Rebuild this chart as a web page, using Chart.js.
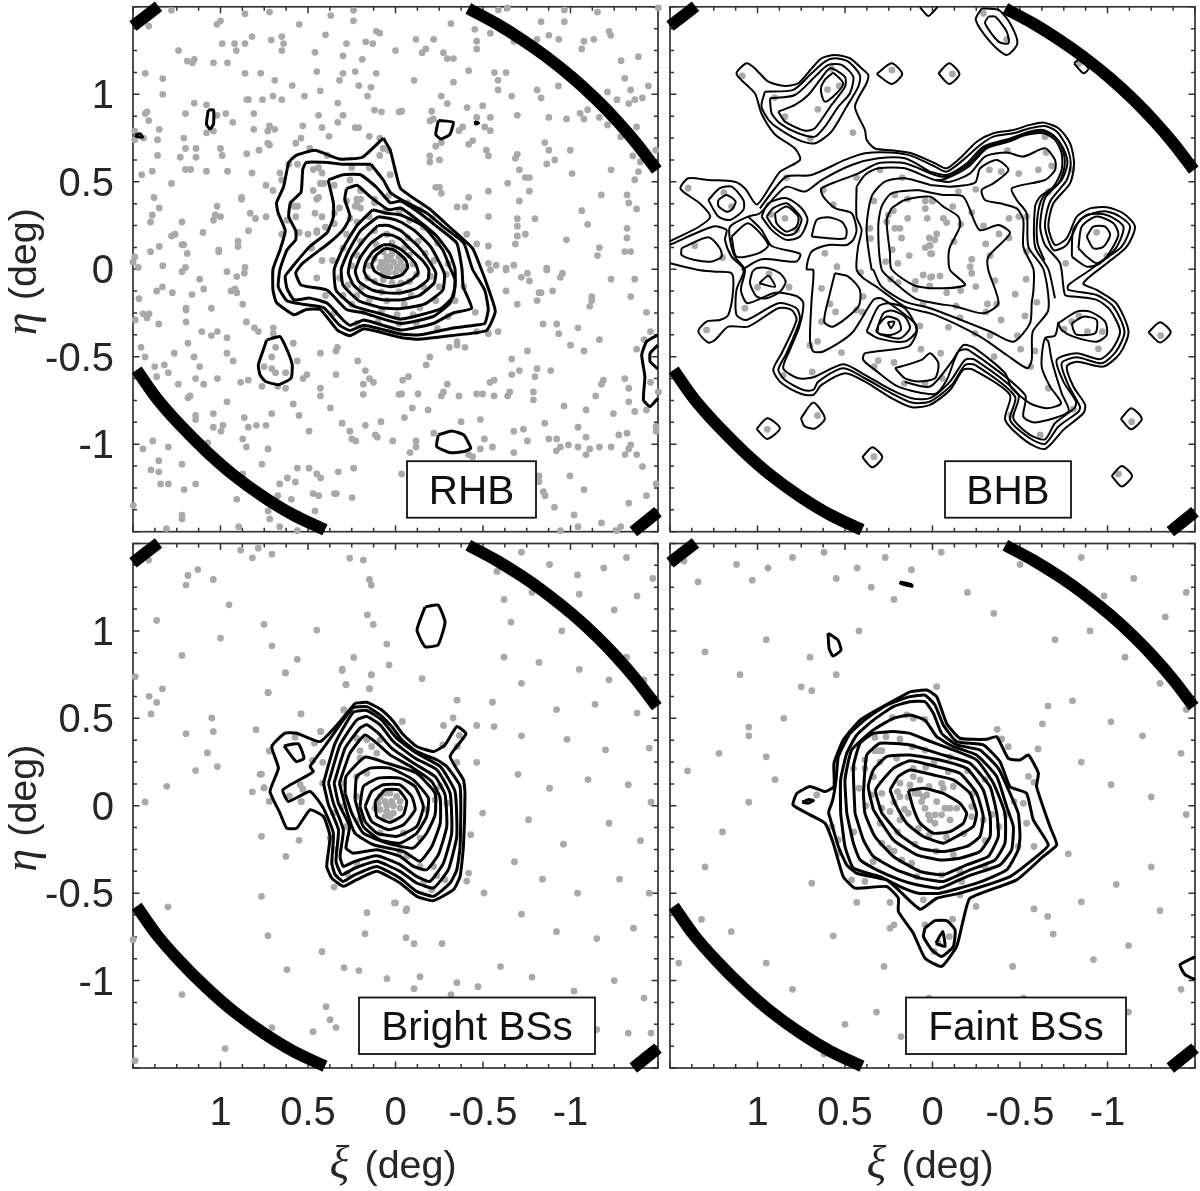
<!DOCTYPE html>
<html lang="en">
<head>
<meta charset="UTF-8">
<title>Star density maps</title>
<script src="https://cdn.jsdelivr.net/npm/chart.js"></script>
<style>
    html, body { margin: 0; padding: 0; background: white; }
    #wrap { position: relative; width: 1200px; height: 1191px; overflow: hidden; }
    canvas { position: absolute; }
</style>
</head>
<body>
<div id="wrap">
    <canvas id="rhb"></canvas>
    <canvas id="bhb"></canvas>
    <canvas id="brightBs"></canvas>
    <canvas id="faintBs"></canvas>
</div>
<script>
// all values are in degrees: xi, eta, xi, eta, ...
const tickValues = [1, 0.5, 0, -0.5, -1];

// survey edge, same in all panels
const edgeTopLeft = [1.354,1.503, 1.5,1.39];
const edgeTopRight = [-0.416,1.49, -0.578,1.403, -0.73,1.308, -0.864,1.213, -1.016,1.091, -1.15,0.968, -1.264,0.85, -1.378,0.718, -1.493,0.567];
const edgeBottomLeft = [1.479,-0.575, 1.365,-0.737, 1.231,-0.89, 1.079,-1.042, 0.927,-1.175, 0.755,-1.30, 0.584,-1.404, 0.403,-1.49];
const edgeBottomRight = [-1.359,-1.50, -1.50,-1.386];

const rhbStars = [
1.28,1.48,1.41,1.39,.86,1.46,.72,1.47,.37,1.45,.24,1.48,.24,1.42,.55,1.40,1.02,1.40,1.0,1.42,.40,1.34,.11,1.36,.09,1.35,.17,1.30,.13,1.29,.28,1.29,.82,1.33,.71,1.31,.65,1.33,.64,1.29,.86,1.29,.92,1.29,.99,1.29,.91,1.25,.65,1.25,1.24,1.25,.46,1.24,.30,1.22,0,1.25,.19,1.20,1.15,1.20,1.19,1.19,1.16,1.18,1.04,1.18,.96,1.18,.45,1.13,.30,1.12,.23,1.13,.11,1.12,1.43,1.12,.86,1.12,.77,1.12,1.33,1.09,.69,1.08,.32,1.08,.59,1.05,.21,1.05,.14,1.04,.43,1.02,1.33,1.0,.52,.99,.70,.99,.16,.99,.85,.97,.84,.97,.76,.97,.65,.97,1.15,.95,1.08,.94,.33,.95,.12,.91,.08,.90,-.02,.90,1.43,.89,1.42,.90,1.20,.89,1.02,.88,.97,.89,.81,.89,.44,.88,.30,.88,1.41,.85,.93,.84,.72,.82,.53,.82,.42,.81,.33,.84,.23,.81,.21,.81,1.35,.80,.81,.80,.73,.79,.69,.80,1.04,.79,1.08,.78,1.49,.79,1.49,.74,1.44,.75,1.36,.74,1.21,.75,.38,.76,.54,.75,.57,.72,.15,.76,.09,.75,.73,.72,.72,.71,1.20,.69,1.14,.69,1.0,.69,.78,.68,.49,.69,.07,.69,.04,.68,1.36,.65,1.23,.64,1.14,.64,.99,.65,.85,.66,.09,.65,.39,.65,.56,.60,.61,.60,.47,.57,.44,.58,.42,.55,.25,.58,.15,.58,1.20,.57,1.17,.57,1.08,.56,.96,.56,.82,.55,.66,.55,.65,.51,1.39,.56,1.45,.54,1.28,.49,.74,.48,.43,.49,.41,.49,.35,.48,.26,.51,.70,.45,.47,.45,.20,.45,.03,.54,1.38,.41,.88,.41,.88,.40,.44,.41,.45,.40,.20,.40,.22,.40,.28,.39,.12,.38,1.02,.36,1.35,.35,1.39,.31,.83,.32,1.03,.31,1.0,.30,1.04,.28,.80,.29,.74,.30,.58,.36,.56,.36,.32,.35,.23,.36,.20,.35,.46,.32,.57,.30,.42,.30,1.40,.27,1.22,.27,.62,.28,.26,.29,1.10,.21,.84,.22,1.28,.19,1.26,.20,.65,.20,.55,.21,.45,.22,.45,.21,.35,.26,.90,.16,.90,.13,1.22,.14,1.21,.14,1.35,.13,1.40,.10,1.19,.09,1.01,.11,1.01,.10,1.49,.07,1.50,.04,1.47,.01,1.33,.02,1.20,.01,.86,.01,
-.588,1.482,-.639,1.493,-.965,1.482,-1.154,1.47,-1.502,1.493,-.317,1.404,-.832,1.415,-.965,1.415,-.453,1.371,-.542,1.349,-1.22,1.36,-1.23,1.337,-.117,1.314,-.218,1.314,-.464,1.303,-.676,1.303,-.809,1.314,-.933,1.314,-1.077,1.303,-1.133,1.314,-.876,1.337,-.464,1.259,-1.064,1.259,-.173,1.259,-.152,1.238,-.274,1.238,-.296,1.204,-.331,1.204,-1.289,1.192,-1.388,1.215,-.418,1.135,-.565,1.124,-.632,1.124,-.106,1.08,-.331,1.069,-.586,1.08,-1.31,1.091,-1.445,1.048,-.586,1.025,-.809,1.025,-.931,1.048,-1.344,1.025,-1.211,1.013,-.262,.99,-.664,.99,-.832,.979,-1.411,.979,-1.367,.969,-1.266,.969,-1.333,.947,-.296,.947,-.409,.924,-.498,.935,-1.098,.912,-1.055,.891,-.035,.903,-.207,.903,-.696,.88,-.542,.868,-.464,.868,-.876,.868,-.977,.859,-1.077,.859,-1.165,.868,-.197,.848,-.216,.859,-1.211,.825,-1.378,.813,-.384,.813,-.51,.813,-.363,.792,-.542,.792,-1.287,.758,-.441,.735,-.418,.714,-.262,.724,-.23,.703,-.853,.724,-.876,.68,-.999,.68,-1.487,.68,-.519,.68,-.531,.648,-.196,.648,-.196,.613,-.251,.625,-1.356,.648,-.696,.657,-.685,.634,-.91,.625,-.864,.602,-1.399,.613,-.708,.568,-1.388,.558,-1.009,.547,-1.232,.568,-.742,.524,-.765,.524,-1.367,.512,-.641,.491,-.23,.468,-.251,.468,-.262,.434,-.531,.446,-.765,.446,-.418,.411,-1.176,.425,-1.323,.425,-.708,.39,-1.333,.379,-.352,.356,-.397,.356,-1.378,.345,-1.064,.335,-.531,.301,-.696,.289,-.797,.289,-1.098,.257,-.696,.246,-1.323,.234,-.742,.2,-.696,.19,-.977,.168,-1.323,.179,-.685,.145,-1.165,.124,-1.31,.101,-1.344,.101,-1.154,.078,-.464,.145,-.531,.133,-.407,.2,-.575,.023,-.531,.034,-.676,.023,-.864,.006,-.632,.006,
1.22,-.014,.963,-.014,1.119,-.057,.864,-.023,.907,-.042,1.365,-.124,1.332,-.101,1.275,-.134,1.163,-.145,1.096,-.113,.94,-.124,.917,-.113,.907,-.134,1.466,-.168,.873,-.2,1.197,-.223,1.197,-.233,1.052,-.223,1.443,-.255,1.408,-.255,1.42,-.278,1.487,-.29,1.353,-.313,1.197,-.301,.852,-.301,.806,-.335,.784,-.356,.698,-.335,.698,-.368,1.107,-.356,1.052,-.379,1.018,-.356,.963,-.391,1.186,-.423,1.454,-.446,1.264,-.48,1.431,-.501,1.151,-.501,.963,-.48,.928,-.524,.685,-.446,.584,-.423,.707,-.501,.561,-.524,.429,-.48,.332,-.446,.34,-.467,.216,-.524,1.376,-.556,1.321,-.547,1.298,-.591,1.365,-.614,1.119,-.556,1.142,-.625,1.096,-.657,1.018,-.625,1.241,-.657,.751,-.556,.707,-.568,.685,-.591,.628,-.591,.34,-.602,.528,-.625,.506,-.602,.172,-.579,.149,-.625,.126,-.646,.184,-.657,.885,-.646,.841,-.634,.763,-.669,.673,-.669,.628,-.68,.429,-.68,.429,-.724,.184,-.715,-.02,-.715,1.174,-.724,1.186,-.735,.963,-.758,.584,-.77,.372,-.793,1.041,-.825,1.142,-.836,1.142,-.859,.864,-.848,.707,-.825,.551,-.836,.986,-.892,1.041,-.903,.997,-.926,.841,-.903,.795,-.892,.74,-.892,.494,-.926,.305,-.88,.172,-.892,.083,-.871,.261,-.926,.115,-.947,.104,-.96,.25,-.97,.227,-.981,.016,-.981,1.387,-.981,1.443,-1.027,1.298,-1.016,1.073,-.993,.873,-.97,.852,-1.016,.728,-1.027,1.353,-1.094,1.22,-1.114,.763,-1.114,1.397,-1.147,1.353,-1.158,.873,-1.17,.561,-1.137,.494,-1.137,.45,-1.17,.428,-1.193,.327,-1.158,.239,-1.137,.618,-1.193,.572,-1.216,.662,-1.227,1.342,-1.227,1.298,-1.227,1.142,-1.227,1.208,-1.259,.673,-1.294,.471,-1.282,.439,-1.294,.349,-1.282,.338,-1.282,.248,-1.305,.907,-1.315,.595,-1.315,1.498,-1.349,.728,-1.381,.46,-1.381,1.22,-1.406,1.22,-1.427,.719,-1.427,1.309,-1.482,.896,-1.471,.662,-1.471,.561,-1.494,
-.542,-.004,-.632,-.004,-.864,-.004,-.754,-.023,-.719,-.046,-.765,-.067,-.954,-.023,-.942,-.046,-1.232,-.057,-1.367,-.057,-.632,-.124,-.82,-.134,-.832,-.134,-.898,-.124,-1.344,-.156,-1.121,-.156,-1.121,-.179,-.809,-.179,-.696,-.2,-1.11,-.212,-1.434,-.246,-.456,-.246,-.843,-.313,-.921,-.313,-1.043,-.335,-.933,-.368,-1.457,-.356,-.464,-.356,-.531,-.368,-.586,-.356,-1.165,-.402,-1.0,-.434,-1.077,-.467,-1.378,-.457,-1.42,-.402,-.352,-.414,-.352,-.434,-.308,-.446,-.397,-.446,-.754,-.467,-.196,-.501,-.175,-.547,-.664,-.513,-.664,-.602,-.708,-.579,-.809,-.568,-.797,-.614,-.887,-.579,-.074,-.614,-.041,-.634,-.54,-.646,-.563,-.634,-.296,-.657,-1.188,-.634,-1.177,-.657,-1.31,-.625,-1.333,-.68,-1.457,-.646,-.035,-.713,-.129,-.713,-.274,-.701,-.262,-.724,-.363,-.724,-.464,-.713,-.498,-.713,-.563,-.724,-.653,-.701,-.641,-.724,-.788,-.701,-.788,-.747,-1.144,-.724,-1.333,-.758,-1.502,-.701,-.963,-.781,-.096,-.793,-.186,-.804,-1.089,-.804,-1.245,-.825,-1.367,-.813,-1.434,-.804,-.051,-.848,-.375,-.871,-.485,-.859,-.853,-.88,-1.043,-.903,-1.489,-.899,-1.489,-.926,-.676,-.926,-.731,-.914,-.218,-.937,-1.276,-.947,-1.323,-.937,-1.089,-.96,-.876,-.97,-.921,-.97,-.117,-.981,-.508,-.97,-.754,-.981,-.988,-1.004,-1.043,-1.016,-.942,-1.016,-.919,-1.038,-1.11,-1.027,-1.165,-1.016,-1.232,-1.016,-1.344,-1.004,-1.333,-1.027,-1.312,-1.059,-1.378,-1.059,-.117,-1.016,-.083,-1.048,-.485,-1.027,-.554,-1.016,-.676,-1.048,-.418,-1.059,-.441,-1.071,-1.089,-1.059,-1.411,-1.128,-.035,-1.17,-.997,-1.181,-.82,-1.181,-.82,-1.214,-1.489,-1.227,-1.077,-1.259,-.845,-1.271,-.855,-1.294,-1.434,-1.294,-1.333,-1.337,-.908,-1.36,-1.02,-1.404,-1.177,-1.45,-1.043,-1.471,-1.287,-1.471,-1.264,-1.494,-.942,-1.494,
.05,.07,.02,.09,-.02,.07,.08,.04,.05,.04,.01,.04,-.03,.04,.09,.01,.06,.01,.03,.01,-.01,.01,-.05,.01,.07,-.02,.04,-.02,0,-.02,-.04,-.01,.03,.06,.01,.11,.07,.1,.11,.14,.02,.15,-.05,.12,-.08,.08,.12,.06,.15,.02,-.1,.03,-.12,-.03,-.08,-.07,-.03,-.08,.02,-.08,.07,-.06,.12,-.07,.16,-.05,.19,-.1,.08,-.13,-.02,-.13,-.09,-.15,-.16,-.1,-.2,-.04,-.22,.05,-.17,.09,-.13,.16,-.07,.18,.05,.2,.12,.22,.2,.16,.22,.08,.25,.02,.27,-.09,.22,-.15,.15,-.18,.05,-.18,-.05,-.2,-.14,-.22,-.23,-.18,-.25,-.1,-.29,-.03,-.1,-.26,-.01,-.26,.08,-.24,.18,-.24,.25,-.2,.3,-.15,.32,-.05,.36,.05,.3,.12,.28,.2,.22,.27,.15,.3,.06,.33,-.02,.33,-.08,.28,-.16,.24,-.24,.15,-.3,.03,-.39,-.1,-.34,-.18,-.3,-.27,-.24,-.34,-.12,-.31,-.02,-.31,.1,-.3,.22,-.31,.35,-.25,.4,-.15,.45,-.05,.42,.05,.48,.12,.5,.2,.4,.24,.35,.32,.22,.37,.12,.4,.04,.42,-.07,.38,-.14,.34,-.21,.29
];

const rhbContours = [
[.07,.75,.19,.64,.32,.63,.46,.68,.57,.65,.61,.61,.64,.47,.68,.38,.67,.32,.63,.22,.66,.11,.70,0,.70,-.12,.68,-.19,.58,-.26,.51,-.23,.43,-.23,.33,-.35,.26,-.38,.18,-.34,-.03,-.39,-.12,-.40,-.31,-.38,-.52,-.35,-.57,-.24,-.52,-.08,-.49,0,-.44,.12,-.31,.24,-.20,.34,-.03,.46,0,.56,.03,.68],
[.14,.60,.30,.60,.39,.61,.51,.61,.53,.57,.54,.44,.60,.38,.61,.30,.57,.22,.57,.17,.62,.11,.66,0,.67,-.10,.62,-.18,.53,-.20,.41,-.22,.32,-.32,.26,-.35,.18,-.32,-.03,-.37,-.14,-.375,-.31,-.34,-.45,-.32,-.51,-.31,-.53,-.23,-.51,-.12,-.44,0,-.39,.15,-.27,.245,-.18,.32,-.03,.40,.03,.44,.07,.51],
[.385,.51,.30,.54,.20,.54,.11,.47,.03,.38,-.03,.39,-.14,.32,-.235,.245,-.35,.15,-.38,0,-.387,-.10,-.435,-.223,-.33,-.25,-.216,-.31,-.03,-.347,.18,-.29,.26,-.32,.30,-.29,.39,-.195,.49,-.165,.58,-.175,.62,-.11,.63,-.04,.60,0,.56,.05,.49,.13,.39,.21,.355,.30,.355,.38],
[.28,.46,.22,.48,.145,.415,.04,.34,-.03,.35,-.14,.27,-.235,.19,-.31,.09,-.34,0,-.34,-.10,-.31,-.195,-.216,-.27,-.03,-.31,.18,-.25,.28,-.23,.39,-.12,.54,-.09,.57,-.02,.53,.035,.38,.15,.30,.225,.26,.30,.29,.40],
[.13,.34,.22,.25,.30,.12,.35,0,.34,-.12,.24,-.21,.10,-.25,-.03,-.285,-.25,-.23,-.33,-.156,-.34,-.06,-.315,0,-.27,.11,-.16,.245,-.03,.31,.05,.32],
[.10,.30,.20,.22,.27,.10,.31,0,.30,-.09,.21,-.18,.08,-.22,-.03,-.225,-.165,-.20,-.27,-.12,-.28,-.03,-.255,.03,-.20,.13,-.11,.22,-.03,.27,.03,.29],
[.10,.25,.17,.18,.25,.07,.27,-.02,.24,-.09,.17,-.15,.07,-.175,-.03,-.175,-.135,-.15,-.22,-.08,-.23,-.02,-.19,.05,-.13,.13,-.03,.22,.04,.25],
[.07,.20,.14,.15,.20,.07,.23,-.01,.21,-.07,.13,-.12,.05,-.135,-.03,-.135,-.12,-.11,-.185,-.06,-.19,0,-.155,.05,-.09,.11,-.03,.17,.02,.195],
[.07,.14,.13,.10,.17,.04,.18,-.01,.16,-.05,.10,-.085,.03,-.10,-.03,-.09,-.09,-.06,-.13,-.02,-.115,.03,-.07,.08,-.02,.12,.03,.14],
[.06,.12,.11,.08,.135,.03,.12,-.01,.07,-.04,.02,-.05,-.04,-.03,-.07,.01,-.06,.05,-.02,.09,.02,.115],
[1.07,.91,1.04,.91,1.04,.83,1.06,.80,1.08,.83],
[1.49,.765,1.46,.775,1.445,.755,1.465,.755],
[-.245,.85,-.33,.84,-.31,.77,-.26,.745,-.23,.77],
[-.45,.836,-.46,.842,-.475,.836,-.46,.83],
[.736,-.404,.66,-.385,.62,-.46,.59,-.547,.597,-.623,.67,-.66,.745,-.64,.774,-.604,.784,-.547,.755,-.46],
[-.245,-.947,-.32,-.924,-.39,-.947,-.43,-1.023,-.39,-1.042,-.31,-1.048,-.235,-1.013]
];
const rhbOpen = [
[-1.50,-.375,-1.435,-.413,-1.407,-.49,-1.425,-.614,-1.417,-.747,-1.455,-.785,-1.50,-.737],
[-1.50,-.433,-1.455,-.48,-1.455,-.528,-1.50,-.57]
];

const bhbStars = [
1.087,1.105,.232,1.139,.577,1.148,.6,1.027,.533,1.048,.902,.981,.655,.914,.843,.872,.698,.747,.455,.781,.834,.524,.434,.524,.624,.453,.567,.369,.30,.568,.173,.524,.215,.425,.142,.402,.041,.39,.001,.39,.335,.39,1.192,.438,1.148,.358,.923,.314,.843,.291,.777,.225,.224,.335,.253,.31,.262,.272,.041,.347,.142,.291,.03,.291,.215,.234,.186,.234,.358,.234,.177,.179,.354,.177,.018,.179,.041,.124,.018,.135,.23,.112,1.358,.135,1.2,.067,.133,.078,.011,.089,.268,.044,.198,.034,.546,.015,1.396,.463,.615,.091,
-.291,1.463,-.424,1.314,-.114,1.116,-.839,1.177,-.643,.758,-.428,.678,-.649,.667,-.325,.568,-.392,.558,-.493,.547,-.605,.568,-.681,.59,-.796,.568,-.247,.457,-.148,.444,-.001,.39,-.116,.358,-.224,.324,-.437,.291,-.493,.301,-.538,.301,-.062,.291,-.081,.267,-.161,.257,-.291,.248,-.38,.202,-.024,.202,-.013,.168,.014,.135,-.437,.179,-.123,.158,-.304,.145,.004,.089,-.329,.078,-.538,.101,-.224,.057,-.215,.015,-.938,.211,-.996,.076,-.761,.034,-.662,.444,
1.291,-.347,1.072,-.223,1.0,-.103,.82,-.103,.934,-.027,.411,-.019,.634,-.109,.396,-.156,.586,-.198,.554,-.244,.434,-.233,.401,-.244,.634,-.299,.657,-.412,.70,-.434,.52,-.476,.066,-.457,.31,-.522,.333,-.556,.22,-.533,.687,-.587,.853,-.606,.161,-.652,.043,-.652,.657,-.836,.944,-.915,.335,-1.071,.239,-.057,.196,-.076,.097,-.069,.053,-.033,.011,-.046,.015,-.095,.10,-.114,.053,-.194,.072,-.324,
-.043,-.038,.004,-.042,-.224,-.023,-.247,-.099,-.357,-.065,-.535,-.057,-.081,-.134,-.161,-.122,-.472,-.143,-.314,-.198,-.367,-.198,-.596,-.189,-.135,-.21,-.306,-.244,-.529,-.267,-.157,-.276,-.392,-.29,-.091,-.332,-.243,-.366,-.329,-.379,-.485,-.379,-.504,-.457,-.586,-.467,-.047,-.48,-.352,-.499,-.561,-.556,-.055,-.623,-.662,-.68,-.805,-.80,-.447,-.833,-.615,-.947,-1.138,-.871,-1.062,-1.17,-1.304,-.379,-.837,-.267,-.796,-.299,-.752,-.343,-.885,-.356,-.971,-.356,-.948,-.455
];

const bhbContours = [
// rings and cells
[.977,.301,.938,.377,.834,.406,.748,.349,.714,.282,.757,.187,.834,.168,.92,.225],
[.948,.301,.91,.349,.834,.377,.777,.329,.748,.282,.786,.206,.843,.196,.91,.244],
[.90,.32,.834,.358,.767,.301,.777,.244,.834,.215,.891,.263],
[1.281,.396,1.215,.463,1.148,.472,1.081,.396,1.081,.339,1.157,.282,1.224,.301],
[1.224,.396,1.177,.425,1.125,.387,1.148,.339,1.177,.329,1.224,.362],
[.691,.187,.662,.282,.596,.297,.519,.272,.491,.225,.50,.177,.596,.177],
[1.148,.187,1.053,.263,.938,.139,.996,.091,1.12,.072],
[1.434,.12,1.281,.183,1.215,.12,1.205,.072,1.262,.044,1.358,.053,1.434,.082],
// upper blob
[.958,1.015,.796,1.025,.691,1.12,.615,1.187,.558,1.206,.481,1.187,.415,1.11,.424,1.044,.491,.929,.577,.787,.672,.72,.767,.739,.919,.834,.977,.929],
[.929,.977,.786,.996,.672,1.1,.596,1.168,.519,1.168,.453,1.1,.472,1.006,.538,.929,.615,.815,.672,.758,.767,.777,.872,.834,.919,.891],
[.881,.901,.786,.939,.71,.996,.643,1.082,.586,1.148,.5,1.1,.5,1.044,.577,.939,.672,.806,.729,.792,.843,.844],
[.567,1.124,.51,1.063,.548,1.006,.615,.958,.638,1.025,.615,1.082],
// small islands
[.319,1.116,.234,1.177,.173,1.116,.234,1.059],
[-.034,1.12,-.095,1.177,-.154,1.116,-.095,1.059],
[-.809,1.177,-.834,1.196,-.891,1.148,-.862,1.12],
[-.281,1.491,-.247,1.425,-.338,1.291,-.424,1.225,-.485,1.291,-.443,1.406,-.377,1.482],
[-.319,1.444,-.30,1.406,-.377,1.301,-.434,1.291,-.424,1.358,-.358,1.444],
[-1.234,-.36,-1.30,-.303,-1.361,-.36,-1.30,-.419],
[-1.076,-.855,-1.135,-.794,-1.196,-.855,-1.135,-.915],
[-1.024,-1.181,-1.081,-1.124,-1.14,-1.181,-1.081,-1.242],
[1.005,-.913,.944,-.852,.872,-.909,.944,-.97],
[.752,-.852,.681,-.762,.615,-.852,.672,-.91,.729,-.899],
[.401,-1.074,.344,-1.017,.287,-1.074,.344,-1.132],
// lower peaks
[1.03,-.014,1.043,-.08,1.005,-.156,.948,-.166,.872,-.128,.839,-.071,.872,-.023,.938,.006,1.005,.006],
[.99,-.08,.938,-.038,.90,-.1],
[.377,-.356,.31,-.214,.253,-.194,.158,-.223,.091,-.347,.158,-.413,.31,-.395],
[.323,-.356,.281,-.252,.234,-.236,.158,-.271,.129,-.337,.186,-.395,.291,-.375],
[.31,-.318,.262,-.271,.196,-.29,.181,-.347,.234,-.375,.31,-.366],
[.256,-.303,.218,-.299,.237,-.337],
[.558,-.023,.481,-.042,.415,-.118,.424,-.214,.567,-.328,.619,-.299,.586,-.137],
[.214,-.566,.158,-.623,.082,-.642,-.014,-.623,-.034,-.537,.014,-.48,.062,-.518],
[-.719,-.309,-.824,-.242,-.90,-.242,-.986,-.299,-.996,-.375,-.938,-.414,-.805,-.385,-.738,-.347],
[-.796,-.309,-.862,-.271,-.938,-.29,-.929,-.366,-.824,-.375,-.805,-.347],
[-.796,.072,-.805,.225,-.881,.31,-.996,.31,-1.091,.244,-1.053,.129,-.957,.034,-.881,.015],
[-.834,.12,-.853,.244,-.938,.301,-1.034,.263,-1.062,.196,-.996,.072,-.938,.034,-.881,.072],
[-.881,.187,-.919,.244,-.986,.244,-1.015,.196,-.977,.129,-.919,.12],
// inner plateau
[.234,.349,.262,.282,.243,.091,.234,0,.11,-.09,-.014,-.109,-.186,-.09,-.10,-.004,-.091,.072,-.10,.129,-.157,.244,-.148,.301,-.062,.358,.014,.415,.158,.396],
[.082,.453,.234,.434,.291,.358,.31,.244,.291,0,.234,-.061,.10,-.166,-.014,-.194,-.138,-.214,-.291,-.252,-.377,-.194,-.319,-.004,-.319,.072,-.443,.206,-.377,.253,-.268,.225,-.176,.415,-.06,.425],
[.014,.482,-.10,.472,-.243,.495,-.272,.577,-.367,.625,-.434,.567,-.348,.491,-.281,.453,-.30,.396,-.386,.377,-.481,.348,-.519,.282,-.519,.129,-.577,0,-.577,-.118,-.567,-.194,-.557,-.309,-.462,-.414,-.329,-.356,.014,-.223,.158,-.185,.291,-.099,.338,-.004,.348,0,.377,.225,.348,.415,.272,.501,.158,.52],
// main outer level
[.014,.558,-.081,.539,-.196,.606,-.291,.701,-.443,.748,-.557,.787,-.634,.796,-.70,.758,-.748,.691,-.771,.606,-.738,.51,-.643,.406,-.615,.244,-.643,.139,-.729,.034,-.757,-.147,-.805,-.156,-.938,-.175,-1.015,-.233,-1.072,-.356,-1.024,-.461,-.957,-.514,-.824,-.48,-.71,-.518,-.748,-.642,-.82,-.756,-.811,-.794,-.70,-.88,-.643,-.972,-.557,-.947,-.462,-.852,-.491,-.718,-.243,-.518,-.186,-.518,-.10,-.642,.014,-.737,.119,-.737,.234,-.69,.386,-.604,.51,-.543,.681,-.617,.767,-.623,.853,-.566,.815,-.461,.761,-.328,.738,-.194,.777,-.153,.90,-.134,1.057,-.194,1.095,-.118,1.072,-.004,1.129,.072,1.157,.168,1.157,.244,1.053,.301,.986,.32,.90,.415,.834,.472,.729,.444,.634,.51,.462,.596,.31,.634,.158,.634]
];
const bhbOpen = [
// outermost level, runs from the left frame round the whole map and back
[1.50,.16,1.34,.24,1.27,.30,1.33,.377,1.44,.46,1.395,.52,1.28,.51,1.13,.50,1.07,.46,1.005,.37,.93,.47,.87,.558,.757,.625,.786,.69,.90,.77,.977,.89,1.015,1.006,1.12,1.116,1.062,1.177,1.015,1.148,.938,1.072,.843,1.048,.767,1.063,.69,1.148,.634,1.206,.558,1.225,.472,1.206,.405,1.148,.367,1.11,.377,1.063,.443,.93,.386,.796,.376,.739,.329,.69,.234,.68,.12,.663,-.014,.606,-.081,.577,-.157,.634,-.253,.729,-.348,.777,-.462,.796,-.557,.825,-.634,.838,-.72,.806,-.786,.72,-.809,.606,-.786,.491,-.691,.377,-.662,.244,-.70,.139,-.767,.177,-.824,.30,-.90,.348,-.996,.354,-1.09,.32,-1.157,.244,-1.11,.129,-.996,.034,-.862,-.08,-.938,-.118,-1.05,-.194,-1.12,-.356,-1.072,-.48,-.976,-.556,-.824,-.528,-.767,-.556,-.805,-.67,-.872,-.775,-.862,-.823,-.748,-.918,-.643,-1.027,-.538,-.985,-.415,-.861,-.443,-.718,-.234,-.575,-.176,-.575,-.10,-.69,.014,-.775,.119,-.789,.234,-.737,.386,-.642,.50,-.594,.634,-.661,.681,-.718,.748,-.713,.862,-.652,.91,-.575,.862,-.48,.777,-.29,.805,-.233,.881,-.223,1.053,-.328,1.167,-.328,1.243,-.404,1.281,-.419,1.338,-.356,1.291,-.299,1.215,-.29,1.167,-.261,1.139,-.118,1.148,-.023,1.243,-.014,1.338,-.004,1.50,.034],
// second level
[1.50,.14,1.253,.244,1.177,.225,1.186,.168,1.148,.072,1.078,-.004,1.12,-.118,1.12,-.261,1.062,-.29,.881,-.194,.777,-.223,.758,-.29,.834,-.48,.881,-.575,.843,-.633,.738,-.69,.681,-.69,.653,-.642,.51,-.566,.386,-.623,.234,-.709,.119,-.762,.014,-.756,-.11,-.661,-.186,-.547,-.243,-.547,-.472,-.728,-.443,-.861,-.557,-.966,-.643,-.998,-.72,-.899,-.834,-.814,-.843,-.785,-.776,-.661,-.738,-.537,-.824,-.503,-.967,-.537,-1.049,-.47,-1.097,-.356,-1.034,-.214,-.938,-.147,-.776,-.118,-.777,-.09,-.90,-.004,-.976,.053,-1.081,.129,-1.129,.244,-1.072,.30,-.996,.33,-.92,.32,-.843,.282,-.767,.139,-.691,.11,-.643,.244,-.672,.387,-.767,.51,-.79,.606,-.767,.701,-.71,.787,-.643,.819,-.557,.806,-.462,.777,-.348,.758,-.272,.71,-.176,.625,-.081,.558,-.014,.587,.12,.648,.234,.667,.386,.663,.50,.625,.691,.539,.834,.53,.90,.463,.986,.348],
// branch of the third level
[1.053,.301,.977,.225,.919,.133,.757,.088,.777,.044,.977,.057,1.09,-.004],
// fourth and fifth levels
[.434,.472,.386,.539,.31,.577,.158,.577,-.014,.51,-.081,.52,-.205,.586,-.31,.691,-.434,.729,-.538,.768,-.634,.777,-.70,.739,-.738,.663,-.738,.567,-.691,.472,-.615,.415,-.586,.358,-.586,.129,-.662,0,-.70,-.166],
[.434,.472,.434,.30,.405,.225,.425,.13,.434,0,.396,-.05,.32,-.10,.158,-.214,-.014,-.261,-.272,-.385,-.424,-.49,-.542,-.566,-.567,-.518,-.573,-.356,-.662,-.233,-.634,0,-.548,.129,-.538,.32,-.481,.396,-.453,.463,-.643,.51,-.70,.567,-.70,.625,-.643,.691,-.519,.644,-.424,.667,-.30,.644,-.215,.548,-.10,.50,-.014,.51],
[-.64,.05,-.60,.15,-.60,.30,-.63,.41,-.72,.49,-.755,.59,-.745,.68,-.705,.75,-.634,.787,-.55,.778,-.44,.74,-.30,.695,-.20,.595,-.081,.53,-.014,.539,.158,.606,.31,.606,.424,.548,.634,.463,.624,.415,.557,.349,.462,.32,.434,.225,.453,.168,.491,.139,.596,.139,.691,.101,.719,0,.681,-.004,.691,-.175,.70,-.404,.681,-.47,.624,-.47,.462,-.366,.338,-.175,.291,-.166,.10,-.309,.091,-.366,.139,-.442,.386,-.48,.396,-.518,.329,-.575,.196,-.671,-.014,-.713,-.081,-.633,-.148,-.47,-.205,-.461,-.529,-.718,-.519,-.842,-.586,-.876,-.777,-.814,-.738,-.709,-.681,-.518,-.662,-.414,-.643,-.394],
[.158,-.645,.014,-.67,-.11,-.528,-.176,-.433,-.243,-.452,-.415,-.594,-.453,-.68,-.557,-.766,-.653,-.794,-.735,-.766,-.672,-.671,-.624,-.556,-.643,-.394,-.70,-.38,-.72,-.30],
// short piece at the top frame
[.072,1.497,.024,1.448,-.014,1.482,-.03,1.50]
];

const brightStars = [
1.41,1.405,1.186,1.317,1.13,1.351,1.041,1.294,1.197,1.262,.885,1.462,.784,1.473,.818,1.418,.706,1.439,.262,1.416,.184,1.405,.149,1.294,.138,1.262,.951,1.149,1.365,1.06,.751,1.037,.45,1.005,.161,1.092,.127,1.037,1.0,.959,.706,.915,.05,.925,1.22,.86,.561,.837,.239,.848,.037,.805,.304,.782,.629,.759,.138,.748,1.487,.738,.283,.692,.149,.669,1.332,.669,.728,.647,1.408,.626,1.365,.591,1.397,.525,.54,.525,1.05,.502,.294,.548,.797,.435,1.041,.424,1.197,.412,.428,.424,1.075,.302,1.018,.224,1.142,.201,.719,.313,.774,.18,1.307,.111,.751,.102,.818,.079,1.431,.022,.473,.258,.54,.024,
1.30,-.578,.163,-.612,0,-.555,-.06,-.60,.729,-.743,.174,-.732,-.06,-.755,-.106,-.789,-.266,-.789,1.50,-.766,.42,-.835,.62,-.937,.294,-.926,.209,-.943,.049,-.989,-.14,-.978,-.106,-1.046,-.351,-1.012,-.471,-1.035,-.317,-1.08,1.22,-1.08,.397,-1.149,.374,-1.224,.34,-1.269,.471,-1.292,.706,-1.269,.974,-1.389,1.489,-1.458,
.629,.762,.305,.773,.138,.75,-.152,.727,.283,.693,.149,.67,.728,.649,-.352,.604,-.554,.592,.54,.526,.296,.548,-.039,.482,-.329,.503,-.274,.459,-.464,.459,-.563,.453,.429,.425,-.365,.402,.574,.392,.721,.314,.463,.358,.222,.386,.164,.377,.088,.377,.136,.339,.107,.301,.203,.314,.203,.272,.473,.259,.416,.248,-.35,.248,-.464,.248,-.354,.339,-.27,.348,.766,.181,.164,.186,.222,.167,.298,.129,.416,.129,.545,.12,.53,.095,.751,.103,.606,.057,.721,.025,.538,.025,-.498,-.042,-.43,-.166,.766,-.175,.551,-.198,.627,-.29,-.418,-.385,-.407,-.431,-.506,-.499,.766,-.518,.351,-.465,.006,-.556,-.064,-.59,.088,.053,.06,.072,.031,.072,-.007,.053,-.026,.025,.098,.015,.06,.025,.022,.025,.05,0,.012,0,.088,-.023,.05,-.033,.012,-.042,-.026,-.014,.117,-.014,.06,-.061,.031,-.061,.222,.053,.298,-.004,.355,-.042,.374,-.185,.345,-.252,.279,-.118,.203,-.08,.088,-.156,-.14,-.185,-.045,-.156,-.178,-.023,-.255,.11,-.226,.034,-.293,.015,-.064,-.29,-.026,-.261,-.14,-.347,.222,-.328,.275,-.389,-.217,-.347,-.236,-.40,-.283,-.423,-.207,-.48,-.159,-.442,
-.58,1.34,-.72,1.45,-.88,1.38,-1.04,1.32,-1.19,1.36,-1.32,1.42,-1.47,1.30,-.62,1.18,-.78,1.22,-.66,1.05,-1.05,1.21,-1.25,1.12,-1.38,1.20,-.95,1.0,-1.15,.98,-1.32,.85,-.82,.82,-.62,.85,-.72,.70,-1.05,.78,-1.22,.72,-1.42,.72,-.92,.55,-1.14,.58,-1.38,.53,-.72,.40,-.98,.38,-1.2,.32,-1.45,.33,-.7,.18,-.88,.1,-1.1,.15,-1.33,.12,-1.46,.02,-.76,-.08,-.96,-.22,-1.22,-.1,-1.4,-.2,-.68,-.32,-.84,-.42,-1.04,-.5,-1.28,-.42,-1.45,-.5,-.72,-.62,-.92,-.72,-1.15,-.76,-1.36,-.7,-.6,-.92,-.78,-.98,-1.02,-1.06,-1.25,-1.0,-1.42,-1.1,-.9,-1.3,-1.15,-1.28,-1.33,-1.3,-1.46,-1.3
];

const brightContours = [
[.231,.587,.164,.592,.079,.548,.012,.482,-.045,.406,-.121,.339,-.217,.31,-.283,.348,-.35,.453,-.403,.411,-.312,.282,-.388,.148,-.397,.072,-.388,-.233,-.369,-.404,-.331,-.48,-.217,-.543,-.121,-.518,-.026,-.442,.107,-.375,.222,-.423,.298,-.461,.364,-.414,.393,-.347,.374,-.176,.412,-.061,.488,-.023,.564,-.128,.622,-.128,.66,-.042,.717,.082,.669,.215,.707,.339,.631,.415,.564,.415,.431,.367,.326,.472],
[.241,.564,.164,.567,.088,.52,.022,.453,-.036,.377,-.121,.31,-.236,.263,-.293,.225,-.369,.11,-.369,-.233,-.35,-.366,-.312,-.442,-.217,-.518,-.121,-.49,-.026,-.414,.107,-.347,.231,-.394,.298,-.433,.345,-.394,.364,-.328,.355,-.157,.412,-.014,.488,.082,.612,.025,.644,.091,.507,.171,.469,.196,.488,.225,.412,.329,.298,.491],
[.637,.343,.555,.354,.523,.272,.568,.253],
[.412,.129,.345,.358,.241,.535,.164,.545,.079,.491,-.007,.386,-.121,.30,-.255,.225,-.34,.082,-.35,-.175,-.302,-.366,-.217,-.47,-.121,-.442,-.026,-.375,.107,-.318,.231,-.356,.307,-.394,.34,-.318,.326,-.137,.383,.006],
[.383,.129,.317,.348,.222,.491,.164,.51,.088,.463,.012,.367,-.112,.272,-.236,.206,-.312,.072,-.321,-.156,-.274,-.328,-.197,-.433,-.121,-.404,-.026,-.337,.107,-.286,.231,-.318,.298,-.347,.317,-.29,.298,-.137,.355,.015],
[.351,.129,.288,.329,.203,.444,.164,.463,.098,.415,.022,.329,-.102,.244,-.226,.167,-.283,.063,-.293,-.118,-.245,-.28,-.178,-.366,-.102,-.347,-.026,-.29,.107,-.252,.241,-.271,.283,-.242,.263,-.118,.326,.015],
[.321,.129,.26,.301,.174,.405,.107,.358,.031,.291,-.102,.215,-.207,.139,-.255,.044,-.255,-.102,-.207,-.233,-.14,-.318,-.045,-.261,.126,-.223,.231,-.157,.275,-.042],
[.288,.072,.283,.167,.174,.278,.05,.244,-.121,.186,-.226,.072,-.226,-.052,-.178,-.157,-.102,-.242,.05,-.214,.184,-.157,.25,-.042],
[.231,.034,.222,.167,.145,.215,.031,.215,-.102,.148,-.188,.044,-.178,-.061,-.121,-.157,-.026,-.214,.088,-.195,.184,-.119],
[.203,-.004,.184,.11,.098,.158,-.026,.158,-.112,.11,-.159,-.004,-.121,-.119,-.007,-.175,.107,-.156,.174,-.09],
[.174,-.004,.136,.082,.069,.12,-.026,.12,-.093,.053,-.112,-.023,-.045,-.109,.041,-.137,.136,-.09],
[.117,.025,.06,.091,-.017,.091,-.064,.025,-.045,-.052,.031,-.095,.107,-.061],
[-.169,1.137,-.243,1.148,-.283,1.05,-.243,.92,-.169,.91,-.123,1.005]
];

const faintStars = [
-.024,.681,.69,.658,-.66,.57,-.628,.468,-.37,.437,.23,.506,.148,.519,.043,.494,.11,.50,.329,.391,.266,.395,.186,.382,.31,.315,.33,.315,.29,.315,.115,.338,.043,.319,.386,.262,.452,.214,.386,.214,.205,.271,-.009,.249,.338,.167,.039,.22,-.09,.195,.11,.214,-.433,.338,-.395,.382,-.603,.325,-.548,.168,-.58,.134,.11,.167,.071,.148,.186,.128,.129,.119,-.052,.128,-.062,.10,-.119,.11,-.233,.071,.10,.071,.052,.052,.033,.062,.062,.024,-.024,.024,.043,-.014,-.071,-.014,-.10,-.014,-.138,-.014,-.014,-.052,-.052,-.052,.024,-.052,.014,-.081,-.10,-.081,-.014,-.10,.186,.052,.2,.081,.29,.071,.348,.062,.29,-.014,.243,-.033,.138,-.043,.186,-.081,-.519,.014,-.466,.024,-.538,-.10,-.224,-.005,-.29,-.081,-.224,-.062,-.49,-.233,-.58,-.233,.29,-.214,.252,-.243,.538,-.271,.462,-.424,.386,-.433,.176,-.31,.119,-.329,.09,-.405,-.052,-.395,-.157,-.376,-.30,-.348,-.167,-.433,.052,-.538,-.157,-.51,-.249,-.576,.433,-.553,.243,-.553,.043,-.681,-.115,-.649,.243,-.70,.22,-.681,.567,-.744,-.096,-.748,-.033,-.786,-.009,-.833,.277,-.919,-.458,-.919,-.58,-.59,-.658,-.633,-.69,-.734,-.776,-.275,.69,-.443,.662,.062,.576,-.119,.538,-.195,
.08,.07,.14,.05,.02,.11,.22,.02,.16,-.02,.08,-.13,.02,-.17,-.08,-.18,-.18,-.16,.1,-.22,.2,-.15,-.02,-.26,-.12,-.28,.22,-.26,.3,-.1,.38,0,-.3,-.2,-.38,-.12,-.42,-.05,-.3,.15,-.2,.2,-.1,.28,.3,.25,.42,.1,.45,-.15,.34,-.32,-.34,-.05,
1.42,1.40,1.34,1.28,1.12,1.38,1.03,1.29,.94,1.36,.80,1.42,.62,1.45,.55,1.30,.43,1.36,.27,1.42,.12,1.35,-.05,1.45,-.20,1.22,-.35,1.10,-.5,1.38,-.72,1.3,-.85,1.42,-.98,1.2,-1.15,1.3,-1.33,1.08,-1.45,1.22,-.7,.95,-.9,1.0,-1.1,.85,-1.3,.7,-1.45,.55,-.8,.6,-1.02,.48,-1.2,.4,-1.42,.3,-.85,.25,-1.02,.12,-1.25,.05,-1.45,-.05,-1.25,-.35,-1.05,-.45,-.85,-.55,-.92,-.88,-1.12,-.8,-1.3,-.6,-1.42,-1.05,-1.12,-1.18,-.88,-1.12,-.7,-1.25,-.52,-1.1,-.35,-1.28,-.18,-1.15,.02,-1.1,.18,-1.32,.32,-1.18,.5,-1.25,.62,-1.42,.8,-1.05,.95,-.9,1.15,-.72,1.32,-.65,1.45,-.9,1.3,-.35,1.2,-.15,1.05,.02,.9,.15,1.22,.3,1.4,.2,1.05,.4,.85,.5,.75,.68,1.1,.75,1.3,.88,.95,.95,.7,.85,.55,.75,.42,1.0,.35,1.25,.22,1.18,1.05,.45,.95,.28,1.1
];

const faintContours = [
[.129,.652,.033,.662,-.024,.624,-.081,.471,-.157,.386,-.31,.38,-.367,.395,-.433,.271,-.50,.262,-.548,.29,-.605,.186,-.595,.109,-.671,-.119,-.71,-.224,-.633,-.29,-.481,-.424,-.214,-.529,-.176,-.652,-.138,-.805,-.052,-.919,.043,-.872,.11,-.729,.195,-.605,.195,-.529,.262,-.462,.443,-.471,.51,-.405,.567,-.214,.614,-.10,.70,-.052,.797,.005,.775,.07,.70,.11,.614,.081,.563,.11,.563,.243,.51,.376,.414,.49,.319,.548],
[.595,-.037,.57,.034,.551,.148,.538,.281,.471,.414,.376,.50,.262,.576,.129,.624,.043,.633,-.014,.576,-.062,.462,-.138,.367,-.29,.348,-.386,.252,-.443,.109,-.538,.071,-.576,-.081,-.662,-.224,-.595,-.29,-.443,-.405,-.157,-.50,-.024,-.529,.071,-.592,.195,-.481,.262,-.424,.433,-.386,.49,-.338,.538,-.233],
[.525,-.043,.525,.148,.49,.30,.433,.405,.338,.49,.224,.567,.129,.595,.043,.595,-.005,.529,-.052,.414,-.138,.348,-.271,.319,-.376,.214,-.443,.071,-.49,-.043,-.50,-.176,-.49,-.252,-.424,-.367,-.252,-.443,-.043,-.50,.081,-.50,.186,-.462,.30,-.405,.452,-.357,.50,-.233],
[.49,-.043,.50,.148,.462,.319,.338,.433,.224,.50,.129,.519,.043,.49,-.024,.395,-.119,.338,-.252,.29,-.367,.167,-.424,-.005,-.462,-.119,-.452,-.252,-.386,-.338,-.195,-.405,-.043,-.471,.09,-.452,.186,-.424,.319,-.367,.414,-.309,.452,-.214],
[.443,-.043,.452,.224,.414,.357,.338,.414,.224,.424,.129,.414,.033,.376,-.119,.319,-.252,.262,-.348,.129,-.414,-.043,-.414,-.214,-.357,-.31,-.214,-.367,-.062,-.433,.071,-.414,.205,-.367,.338,-.29,.395,-.195],
[.395,.071,.376,.29,.30,.357,.129,.348,-.062,.29,-.214,.243,-.329,.109,-.367,-.043,-.376,-.176,-.319,-.29,-.195,-.338,-.062,-.395,.071,-.376,.224,-.29,.329,-.176,.386,-.043],
[.338,-.024,.367,.109,.338,.205,.262,.281,.129,.29,-.043,.262,-.195,.214,-.29,.09,-.329,-.062,-.329,-.176,-.271,-.262,-.157,-.30,-.043,-.31,.09,-.281,.224,-.195],
[.29,-.043,.325,.09,.224,.214,.129,.258,-.024,.224,-.157,.186,-.252,.071,-.29,-.062,-.271,-.176,-.195,-.233,-.062,-.262,.071,-.243,.186,-.167],
[.243,.09,.195,.167,.129,.205,-.005,.176,-.119,.148,-.214,.071,-.252,-.043,-.233,-.119,-.138,-.176,-.062,-.214,.052,-.176,.148,-.10,.214,.014],
[.138,.087,.052,.10,-.062,.071,-.157,.014,-.195,-.043,-.176,-.10,-.10,-.148,-.005,-.157,.071,-.10,.11,-.014],
[.043,-.70,-.014,-.657,-.081,-.657,-.129,-.71,-.119,-.805,-.052,-.862,.005,-.824,.052,-.748],
[-.02,-.786,-.058,-.719,-.071,-.805],
[.745,.02,.71,.035,.68,.03,.71,.015],
[.597,.987,.54,.947,.523,.89,.569,.856,.591,.90],
[.186,1.28,.12,1.265,.117,1.255,.18,1.27]
];
const faintOpen = [
[-1.50,-.864,-1.414,-.91,-1.443,-.966,-1.50,-.995]
];

function toPoints(flat) {
    const pts = [];
    for (let i = 0; i < flat.length; i += 2) pts.push({x: flat[i], y: flat[i + 1]});
    return pts;
}

const frameColor = '#333333';
const textColor = '#262626';
const tickFont = {family: '"Liberation Sans"', size: 40};

// frame with inward ticks on all four sides
const framePlugin = {
    id: 'frame',
    beforeDraw(chart) {
        // the y tick labels sit a little below their ticks in the original
        chart.scales.y.getLabelItems(chart.chartArea).forEach(item => { item.options.translation[1] += 3; });
    },
    beforeDatasetsDraw(chart) {
        const {ctx, chartArea: a, scales} = chart;
        ctx.save();
        ctx.strokeStyle = frameColor;
        ctx.lineWidth = 1.7;
        ctx.strokeRect(a.left, a.top, a.right - a.left, a.bottom - a.top);
        ctx.lineWidth = 1.5;
        for (let v = -1.5; v <= 1.5; v += 0.125) {
            const len = Number.isInteger(v * 2) ? 6.5 : 4;
            const px = scales.x.getPixelForValue(v);
            const py = scales.y.getPixelForValue(v);
            ctx.beginPath();
            ctx.moveTo(px, a.top); ctx.lineTo(px, a.top + len);
            ctx.moveTo(px, a.bottom); ctx.lineTo(px, a.bottom - len);
            ctx.moveTo(a.left, py); ctx.lineTo(a.left + len, py);
            ctx.moveTo(a.right, py); ctx.lineTo(a.right - len, py);
            ctx.stroke();
        }
        ctx.restore();
    },
    afterDraw(chart) {
        const {ctx, chartArea: a} = chart;
        const o = chart.config.options.panel;
        ctx.save();
        // label box
        ctx.fillStyle = 'white';
        ctx.strokeStyle = '#111111';
        ctx.lineWidth = 1.8;
        ctx.fillRect(a.right - o.boxRight, a.bottom - 70.5, o.boxWidth, 56.5);
        ctx.strokeRect(a.right - o.boxRight, a.bottom - 70.5, o.boxWidth, 56.5);
        ctx.fillStyle = '#111111';
        ctx.font = '40.5px "Liberation Sans"';
        ctx.textAlign = 'center';
        ctx.textBaseline = 'alphabetic';
        ctx.fillText(o.label, a.right - o.boxRight + o.boxWidth / 2, a.bottom - 28);
        // axis titles: greek symbol in italic serif, unit in sans
        ctx.fillStyle = textColor;
        ctx.textAlign = 'left';
        if (o.xTitle) {
            ctx.save();
            ctx.translate((a.left + a.right) / 2, a.bottom + 110);
            drawTitle(ctx, 'ξ');
            ctx.restore();
        }
        if (o.yTitle) {
            ctx.save();
            ctx.translate(36, (a.top + a.bottom) / 2);
            ctx.rotate(-Math.PI / 2);
            drawTitle(ctx, 'η');
            ctx.restore();
        }
        ctx.restore();
    }
};

function drawTitle(ctx, symbol) {
    ctx.font = 'italic 46px "Liberation Serif"';
    ctx.fillText(symbol, -66, 0);
    ctx.font = '39.5px "Liberation Sans"';
    ctx.fillText('(deg)', -31, 0);
}

function makePanel(id, box, opts) {
    const canvas = document.getElementById(id);
    canvas.width = box.w;
    canvas.height = box.h;
    canvas.style.left = box.x + 'px';
    canvas.style.top = box.y + 'px';

    const edges = [edgeTopLeft, edgeTopRight, edgeBottomLeft, edgeBottomRight].map(e => ({
        data: toPoints(e), showLine: true, pointRadius: 0, borderColor: '#000000', borderWidth: 12,
        tension: 0.3, clip: false
    }));
    const lineStyle = {showLine: true, pointRadius: 0, borderColor: '#000000', borderWidth: opts.lineWidth,
        tension: opts.smooth, clip: false, borderJoinStyle: 'round'};
    const closed = opts.contours.map(c => {
        const pts = toPoints(c);
        pts.push(pts[0]);
        return {data: pts, ...lineStyle};
    });
    const open = (opts.open || []).map(c => ({data: toPoints(c), ...lineStyle}));
    const stars = {
        data: toPoints(opts.stars), showLine: false, pointRadius: 3.4, pointBorderWidth: 0,
        pointBackgroundColor: '#a9a9a9', clip: false
    };

    return new Chart(canvas, {
        type: 'scatter',
        data: {datasets: [...edges, ...closed, ...open, stars]},
        plugins: [framePlugin],
        options: {
            responsive: false,
            animation: false,
            panel: {label: opts.label, boxRight: opts.boxRight, boxWidth: opts.boxWidth, xTitle: opts.xLabels, yTitle: opts.yLabels},
            layout: {padding: box.pad},
            plugins: {legend: {display: false}, tooltip: {enabled: false}},
            scales: {
                x: {
                    type: 'linear', reverse: true, min: -1.5, max: 1.5,
                    grid: {display: false, drawTicks: false}, border: {display: false},
                    afterBuildTicks: s => { s.ticks = tickValues.map(v => ({value: v})); },
                    afterFit: s => { s.height = box.xHeight; s.paddingLeft = 0; s.paddingRight = 0; },
                    ticks: {display: opts.xLabels, padding: 22, color: textColor, font: tickFont, maxRotation: 0, autoSkip: false, callback: v => String(v)}
                },
                y: {
                    type: 'linear', min: -1.5, max: 1.5,
                    grid: {display: false, drawTicks: false}, border: {display: false},
                    afterBuildTicks: s => { s.ticks = tickValues.map(v => ({value: v})); },
                    afterFit: s => { s.width = box.yWidth; s.paddingTop = 0; s.paddingBottom = 0; },
                    ticks: {display: opts.yLabels, padding: 19, color: textColor, font: tickFont, autoSkip: false, callback: v => String(v)}
                }
            }
        }
    });
}

makePanel('rhb', {x: 0, y: 0, w: 664, h: 537, pad: {top: 6.8, right: 6, bottom: 5.3, left: 0}, xHeight: 0, yWidth: 133},
    {stars: rhbStars, contours: rhbContours, open: rhbOpen, lineWidth: 3, smooth: 0.15, label: 'RHB', boxRight: 251, boxWidth: 129, yLabels: true, xLabels: false});
makePanel('bhb', {x: 664, y: 0, w: 536, h: 537, pad: {top: 6.8, right: 5, bottom: 5.3, left: 0}, xHeight: 0, yWidth: 6},
    {stars: bhbStars, contours: bhbContours, open: bhbOpen, lineWidth: 2, smooth: 0.25, label: 'BHB', boxRight: 250, boxWidth: 126, yLabels: false, xLabels: false});
makePanel('brightBs', {x: 0, y: 537, w: 664, h: 654, pad: {top: 6.5, right: 6, bottom: 0, left: 0}, xHeight: 123, yWidth: 133},
    {stars: brightStars, contours: brightContours, lineWidth: 3, smooth: 0.15, label: 'Bright BSs', boxRight: 299, boxWidth: 236, yLabels: true, xLabels: true});
makePanel('faintBs', {x: 664, y: 537, w: 536, h: 654, pad: {top: 6.5, right: 5, bottom: 0, left: 0}, xHeight: 123, yWidth: 6},
    {stars: faintStars, contours: faintContours, open: faintOpen, lineWidth: 3, smooth: 0.15, label: 'Faint BSs', boxRight: 289, boxWidth: 220, yLabels: false, xLabels: true});
</script>
</body>
</html>
